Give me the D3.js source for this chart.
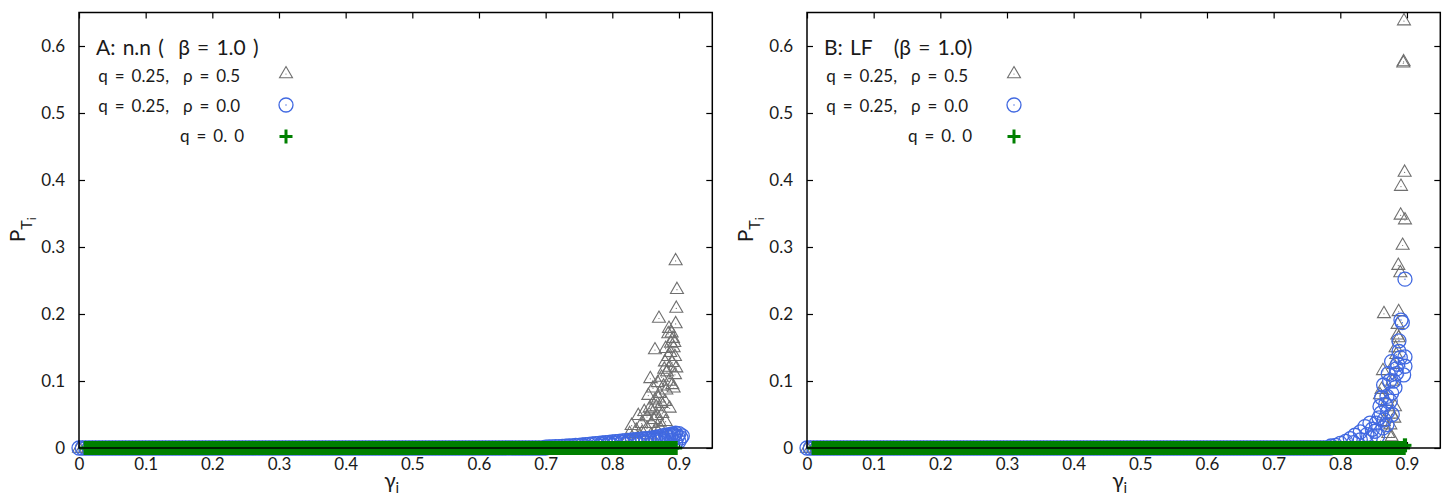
<!DOCTYPE html>
<html>
<head>
<meta charset="utf-8">
<script src="https://cdn.jsdelivr.net/npm/d3@7"></script>
<style>
  body { margin: 0; background: #fff; }
  svg { display: block; font-family: Lato, "Noto Sans", "DejaVu Sans", sans-serif; }
  text { white-space: pre; fill: #1a1a1a; }
</style>
</head>
<body>
<svg id="chart" width="1446" height="497"></svg>
<script>
// ---------- data ----------

const xTicks = [0, 0.1, 0.2, 0.3, 0.4, 0.5, 0.6, 0.7, 0.8, 0.9];
const yTicks = [0, 0.1, 0.2, 0.3, 0.4, 0.5, 0.6];
const panelTitles = ["A: n.n (  \u03b2 = 1.0 )", "B: LF   (\u03b2 = 1.0)"];
const legendLabels = ["q = 0.25,  \u03c1 = 0.5", "q = 0.25,  \u03c1 = 0.0", "q = 0. 0"];

// gamma (x1000) of the many nodes sitting at P ~ 0 : they form the band at the bottom
const gammaFlat = [
  0, 5, 10, 15, 20, 25, 30, 35, 40, 45, 50, 55, 60, 65, 70, 75, 80, 85, 90, 95,
  100, 105, 110, 115, 120, 125, 130, 135, 140, 145, 150, 155, 160, 165, 170, 175, 180, 185, 190, 195,
  200, 205, 210, 215, 220, 225, 230, 235, 240, 245, 250, 255, 260, 265, 270, 275, 280, 285, 290, 295,
  300, 305, 310, 315, 320, 325, 330, 335, 340, 345, 350, 355, 360, 365, 370, 375, 380, 385, 390, 395,
  400, 405, 410, 415, 420, 425, 430, 435, 440, 445, 450, 455, 460, 465, 470, 475, 480, 485, 490, 495,
  500, 505, 510, 515, 520, 525, 530, 535, 540, 545, 550, 555, 560, 565, 570, 575, 580, 585, 590, 595,
  600, 605, 610, 615, 620, 625, 630, 635, 640, 645, 650, 655, 660, 665, 670, 675, 680, 685, 690, 695,
  700, 705, 710, 715, 720, 725, 730, 735, 740, 745, 750, 755, 760, 765, 770, 775, 780, 785, 790, 795,
  800, 805, 810, 815, 820, 825, 830, 835, 840, 845, 850, 855, 860, 865, 870, 875, 880, 885, 890, 895
];

// panel A : where each series leaves the flat band
const flatEndA = { tri: 0.82, circ: 0.70, plus: 0.9 };
// panel A, q=0.25 rho=0.5 (triangles)
const triA = [
  [.895, .280], [.897, .237], [.896, .209], [.870, .194], [.895, .186], [.885, .179], [.884, .171],
  [.891, .164], [.888, .157], [.864, .147], [.892, .150], [.880, .149], [.884, .137], [.894, .137],
  [.879, .129], [.886, .121], [.882, .114], [.857, .104], [.894, .110], [.874, .106], [.868, .098],
  [.854, .079], [.881, .087], [.871, .082], [.864, .072], [.874, .067], [.839, .049], [.859, .057],
  [.852, .047], [.867, .049], [.829, .034], [.844, .037], [.859, .037], [.871, .039], [.836, .027],
  [.889, .172], [.893, .158], [.887, .143], [.890, .128], [.878, .118], [.885, .100], [.877, .093],
  [.861, .090], [.869, .075], [.879, .070], [.866, .062], [.856, .060], [.848, .055], [.862, .043],
  [.875, .052], [.852, .030], [.845, .024], [.826, .022], [.866, .028], [.858, .020], [.838, .015],
  [.822, .012], [.872, .030], [.880, .040], [.886, .060], [.890, .095], [.896, .120], [.892, .090]
];
// panel A, q=0.25 rho=0.0 (circles) : the slow rise at the end of the band
const circA = [
  [.700, .0012], [.705, .0015], [.710, .0017], [.715, .0020], [.720, .0022], [.725, .0025], [.730, .0028],
  [.735, .0030], [.740, .0033], [.745, .0037], [.750, .0040], [.755, .0045], [.760, .0050], [.765, .0055],
  [.770, .0060], [.775, .0065], [.780, .0070], [.785, .0075], [.790, .0080], [.795, .0085], [.800, .0090],
  [.805, .0095], [.810, .0100], [.815, .0105], [.820, .0110], [.825, .0115], [.830, .0120], [.835, .0125],
  [.840, .0130], [.845, .0135], [.850, .0140], [.855, .0145], [.860, .0150], [.865, .0160], [.870, .0170],
  [.875, .0180], [.880, .0190], [.885, .0200], [.890, .0210], [.895, .0220], [.900, .0215], [.905, .0180],
  [.760, .002], [.780, .003], [.800, .004], [.820, .005], [.840, .006], [.850, .008], [.860, .007],
  [.870, .009], [.880, .010], [.890, .012], [.895, .008], [.900, .010], [.845, .010], [.865, .012],
  [.875, .014], [.885, .016], [.892, .018], [.898, .017],
  [.785, .005], [.795, .006], [.805, .007], [.815, .008], [.825, .009], [.835, .010], [.855, .012],
  [.862, .013], [.872, .015], [.882, .017], [.888, .019], [.893, .020], [.903, .015]
];
const plusA = [];

// panel B
const flatEndB = { tri: 0.87, circ: 0.785, plus: 0.9 };
const triB = [
  [.8955, .638], [.895, .577], [.8945, .575], [.8965, .412], [.891, .391], [.8905, .348], [.897, .341],
  [.8935, .303], [.887, .273], [.890, .262], [.8655, .201], [.8875, .204], [.8855, .169], [.8875, .165],
  [.883, .150], [.864, .116], [.8595, .080], [.882, .062], [.877, .051], [.872, .022], [.877, .017],
  [.880, .125], [.884, .140], [.886, .185], [.878, .100], [.870, .070], [.865, .040], [.875, .035],
  [.881, .045], [.862, .088]
];
const circB = [
  [.897, .252], [.891, .191], [.893, .187], [.888, .144], [.897, .136], [.877, .129], [.897, .122],
  [.895, .109], [.872, .111], [.884, .111], [.865, .094], [.877, .082], [.870, .077], [.8595, .062],
  [.871, .054], [.861, .052], [.8445, .037], [.854, .037], [.837, .032], [.830, .024], [.822, .019],
  [.852, .025], [.864, .030], [.815, .014], [.808, .010], [.800, .007], [.793, .004], [.786, .003],
  [.880, .100], [.886, .125], [.890, .135], [.882, .090], [.875, .070], [.868, .065], [.858, .045],
  [.866, .042], [.848, .028], [.840, .020], [.830, .012], [.820, .008], [.845, .015], [.856, .018],
  [.870, .035], [.878, .050], [.888, .160], [.884, .118], [.874, .100], [.862, .075]
];
const plusB = [[.897, .004]];

// ---------- layout ----------

const svg = d3.select("#chart");
const W = 633.3, H = 435.5;
const panelX = [79, 807], panelY = 12.5;

const x = d3.scaleLinear().domain([0, 0.95]).range([0, W]);
const y = d3.scaleLinear().domain([0, 0.65]).range([H, 0]);

const colors = { tri: "#6f6f6f", circ: "#4169e1", plus: "#008000" };
const triPath = "M0,-7L6.5,4.3L-6.5,4.3Z";
const fmt = d3.format("~g");

function marker(sel, kind, plusWidth = 3) {
  if (kind === "tri") {
    sel.append("path").attr("d", triPath)
      .attr("fill", "none").attr("stroke", colors.tri).attr("stroke-width", 1.1);
    sel.append("circle").attr("cy", 0.5).attr("r", 0.6).attr("fill", colors.tri);
  } else if (kind === "circ") {
    sel.append("circle").attr("r", 7)
      .attr("fill", "none").attr("stroke", colors.circ).attr("stroke-width", 1.3);
    sel.append("circle").attr("r", 0.7).attr("fill", colors.circ);
  } else {
    sel.append("path").attr("d", "M-6.5,0H6.5")
      .attr("stroke", colors.plus).attr("stroke-width", 3);
    sel.append("path").attr("d", "M0,-7V7")
      .attr("stroke", colors.plus).attr("stroke-width", plusWidth);
  }
}

function drawSeries(g, pts, kind) {
  g.append("g")
    .selectAll("g")
    .data(pts)
    .join("g")
    .attr("transform", (d) => `translate(${x(d[0])},${y(d[1])})`)
    .each(function () { marker(d3.select(this), kind, 4.2); });
}

function flat(limit) {
  return gammaFlat.map((v) => v / 1000).filter((v) => v <= limit).map((v) => [v, 0]);
}

function drawPanel(i, cfg) {
  const g = svg.append("g").attr("transform", `translate(${panelX[i]},${panelY})`);

  // ticks (inward, mirrored)
  const axes = [
    [d3.axisLeft(y).tickValues(yTicks).tickFormat(fmt), "translate(0,0)"],
    [d3.axisBottom(x).tickValues(xTicks).tickFormat(fmt), `translate(0,${H})`],
    [d3.axisRight(y).tickValues(yTicks).tickFormat(""), `translate(${W},0)`],
    [d3.axisTop(x).tickValues(xTicks).tickFormat(""), "translate(0,0)"],
  ];
  axes.forEach(([ax, tr], k) => {
    const a = g.append("g").attr("transform", tr)
      .call(ax.tickSizeInner(-6).tickSizeOuter(0).tickPadding(k === 0 ? 14 : 10));
    a.select(".domain").remove();
    a.selectAll("line").attr("stroke", "#000").attr("stroke-width", 1.2);
    a.selectAll("text").attr("font-size", 17).attr("fill", "#1a1a1a")
      .style("font-family", 'Lato, "Noto Sans", sans-serif');
  });

  // points: triangles, circles, pluses
  drawSeries(g, flat(cfg.flatEnd.tri).concat(cfg.tri), "tri");
  drawSeries(g, flat(cfg.flatEnd.circ).concat(cfg.circ), "circ");
  drawSeries(g, flat(cfg.flatEnd.plus).slice(2).concat(cfg.plus), "plus");

  // border in front
  g.append("rect").attr("width", W).attr("height", H)
    .attr("fill", "none").attr("stroke", "#000").attr("stroke-width", 1.5);

  // key
  g.append("text").attr("x", 17).attr("y", 42.5)
    .attr("font-size", 21).style("word-spacing", "1.8px").text(cfg.title);
  const kinds = ["tri", "circ", "plus"];
  legendLabels.forEach((lab, k) => {
    g.append("text")
      .attr("x", k === 2 ? 165 : 161)
      .attr("y", 69.5 + 30 * k)
      .attr("text-anchor", "end")
      .attr("font-size", 17)
      .style("word-spacing", "2.6px")
      .text(lab);
    const m = g.append("g").attr("transform", `translate(207,${61 + 31.5 * k})`);
    marker(m, kinds[k]);
  });

  // axis labels
  const yl = g.append("text")
    .attr("transform", `translate(-54,${H / 2 + 12}) rotate(-90)`)
    .attr("font-size", 21);
  yl.append("tspan").text("P");
  yl.append("tspan").attr("font-size", 16).attr("dy", 7).text("T");
  yl.append("tspan").attr("font-size", 12).attr("dy", 4).text("i");

  const xl = g.append("text")
    .attr("x", W / 2 - 4).attr("y", H + 40)
    .attr("text-anchor", "middle")
    .attr("font-size", 21);
  xl.append("tspan").text("\u03b3");
  xl.append("tspan").attr("font-size", 15).attr("dy", 5).text("i");
}

drawPanel(0, { title: panelTitles[0], flatEnd: flatEndA, tri: triA, circ: circA, plus: plusA });
drawPanel(1, { title: panelTitles[1], flatEnd: flatEndB, tri: triB, circ: circB, plus: plusB });
</script>
</body>
</html>
